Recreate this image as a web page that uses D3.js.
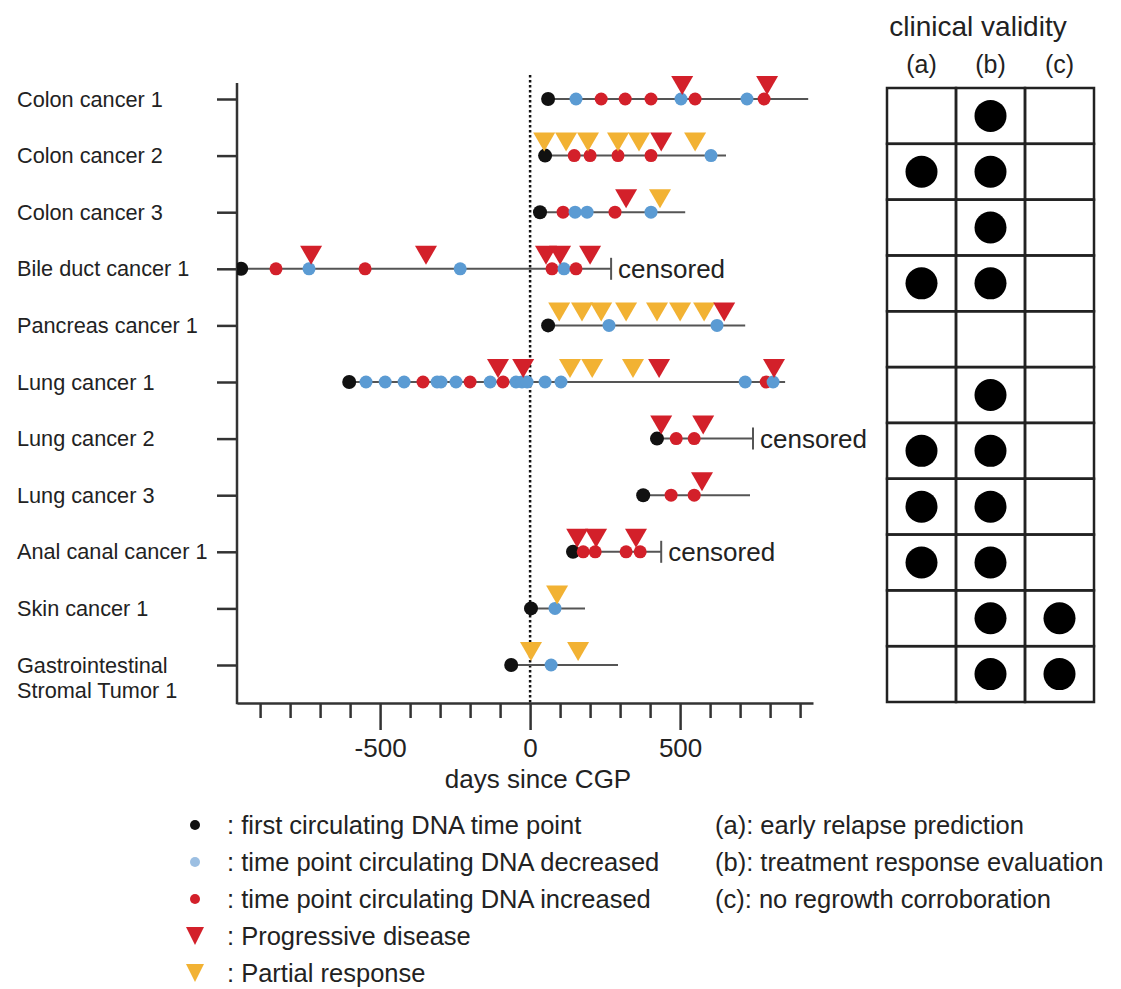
<!DOCTYPE html>
<html>
<head>
<meta charset="utf-8">
<script src="https://cdn.jsdelivr.net/npm/d3@7"></script>
<style>
  html, body { margin: 0; padding: 0; background: #fff; }
  text { font-family: "Liberation Sans", Arial, sans-serif; fill: #222; }
</style>
</head>
<body>
<svg id="chart" width="1121" height="989"></svg>
<script>
// ---------- data ----------
const rows = ["Colon cancer 1", "Colon cancer 2", "Colon cancer 3", "Bile duct cancer 1",
  "Pancreas cancer 1", "Lung cancer 1", "Lung cancer 2", "Lung cancer 3",
  "Anal canal cancer 1", "Skin cancer 1", "Gastrointestinal\nStromal Tumor 1"];
const firstPoint = [60, 50, 33, -963, 60, -603, 423, 377, 143, 3, -63];
const lineEnd = [927, 653, 517, 270, 717, 850, 743, 733, 437, 183, 293];
const censored = [false, false, false, true, false, false, true, false, true, false, false];
const decreased = [[153, 503, 723], [603], [150, 190, 403], [-737, -233, 113], [263, 623],
  [-547, -483, -420, -310, -297, -247, -133, -47, -27, -10, 50, 103, 717, 810], [], [], [], [83], [70]];
const increased = [[237, 317, 403, 550, 780], [147, 200, 293, 403], [110, 283], [-847, -550, 73, 153], [],
  [-357, -200, -90, 787], [487, 547], [470, 547], [177, 217, 320, 367], [], []];
const progressive = [[507, 790], [437], [320], [-730, -347, 53, 100, 200], [647],
  [-107, -23, 430, 813], [437, 577], [573], [157, 220, 353], [], []];
const partial = [[], [47, 120, 193, 293, 363, 550], [433], [], [97, 173, 237, 320, 423, 500, 580],
  [133, 207, 343], [], [], [], [90], [3, 160]];
const majorTicks = [-500, 0, 500];
const minorTicks = [-900, -800, -700, -600, -400, -300, -200, -100, 100, 200, 300, 400, 600, 700, 800, 900];
const validityCols = ["(a)", "(b)", "(c)"];
const validityA = [0, 1, 0, 1, 0, 0, 1, 1, 1, 0, 0];
const validityB = [1, 1, 1, 1, 0, 1, 1, 1, 1, 1, 1];
const validityC = [0, 0, 0, 0, 0, 0, 0, 0, 0, 1, 1];
const legendMarks = [": first circulating DNA time point", ": time point circulating DNA decreased",
  ": time point circulating DNA increased", ": Progressive disease", ": Partial response"];
const legendDefs = ["(a): early relapse prediction", "(b): treatment response evaluation",
  "(c): no regrowth corroboration"];

// ---------- styles ----------
const C = { black: "#111", blue: "#5b9bd3", red: "#d3202a", orange: "#f2b233", line: "#555",
  legBlue: "#9cbfe2" };

const svg = d3.select("#chart");
svg.append("rect").attr("width", 1121).attr("height", 989).attr("fill", "#fff");

const x = d3.scaleLinear().domain([-977, 943]).range([237, 813]);
const y = d3.scalePoint().domain(rows).range([99, 665]);
const axisTop = 83, axisBottom = 703;

// clip
svg.append("defs").append("clipPath").attr("id", "plotclip")
  .append("rect").attr("x", 237).attr("y", 0).attr("width", 884).attr("height", axisBottom);

// dotted zero line
svg.append("line").attr("x1", x(0)).attr("x2", x(0)).attr("y1", 75).attr("y2", axisBottom)
  .attr("stroke", "#111").attr("stroke-width", 2.5).attr("stroke-dasharray", "2.5,2.5");

// y axis
const yAxis = d3.axisLeft(y).tickSize(20).tickFormat("");
const gy = svg.append("g").attr("transform", "translate(237,0)").call(yAxis);
gy.select(".domain").remove();
gy.selectAll(".tick line").attr("stroke", "#333").attr("stroke-width", 2.5);
svg.append("line").attr("x1", 237).attr("x2", 237).attr("y1", axisTop).attr("y2", axisBottom + 1.2)
  .attr("stroke", "#333").attr("stroke-width", 2.5);

// row labels
rows.forEach(r => {
  const lines = r.split("\n");
  const t = svg.append("text").attr("x", 17).attr("y", y(r)).attr("font-size", 21.7);
  lines.forEach((l, i) => t.append("tspan").attr("x", 17).attr("dy", i === 0 ? "0.35em" : "1.15em").text(l));
});

// x axis
const gxMinor = svg.append("g").attr("transform", `translate(0,${axisBottom})`)
  .call(d3.axisBottom(x).tickValues(minorTicks).tickSize(15).tickSizeOuter(0).tickFormat(""));
gxMinor.select(".domain").remove();
gxMinor.selectAll(".tick line").attr("stroke", "#333").attr("stroke-width", 2.5);
const gx = svg.append("g").attr("transform", `translate(0,${axisBottom})`)
  .call(d3.axisBottom(x).tickValues(majorTicks).tickSize(27).tickSizeOuter(0).tickPadding(9)
    .tickFormat(d => String(d)));
gx.select(".domain").attr("stroke", "#333").attr("stroke-width", 2.5);
gx.selectAll(".tick line").attr("stroke", "#333").attr("stroke-width", 2.5);
gx.selectAll(".tick text").attr("font-size", 26).attr("font-family", "Liberation Sans, Arial, sans-serif")
  .attr("fill", "#222").attr("dy", "0.71em");
svg.append("text").attr("x", 538).attr("y", 788).attr("text-anchor", "middle")
  .attr("font-size", 26).text("days since CGP");

// triangle helper
const triW = 22, triH = 19;
function tri(g, cx, baseY, color, w, h) {
  g.append("path")
    .attr("d", `M${cx - w / 2},${baseY - h} L${cx + w / 2},${baseY - h} L${cx},${baseY} Z`)
    .attr("fill", color);
}

// series
const plot = svg.append("g").attr("clip-path", "url(#plotclip)");
rows.forEach((r, i) => {
  const yy = y(r);
  plot.append("line").attr("x1", x(firstPoint[i])).attr("x2", x(lineEnd[i]))
    .attr("y1", yy).attr("y2", yy).attr("stroke", C.line).attr("stroke-width", 2);
  if (censored[i]) {
    plot.append("line").attr("x1", x(lineEnd[i])).attr("x2", x(lineEnd[i]))
      .attr("y1", yy - 11).attr("y2", yy + 11).attr("stroke", C.line).attr("stroke-width", 2);
    svg.append("text").attr("x", x(lineEnd[i]) + 7).attr("y", yy).attr("dy", "0.35em")
      .attr("font-size", 26).text("censored");
  }
  const pts = decreased[i].map(d => ({ d, c: C.blue })).concat(increased[i].map(d => ({ d, c: C.red })))
    .sort((a, b) => a.d - b.d);
  plot.append("circle").attr("cx", x(firstPoint[i])).attr("cy", yy).attr("r", 7).attr("fill", C.black);
  pts.forEach(p => plot.append("circle").attr("cx", x(p.d)).attr("cy", yy).attr("r", 6.5).attr("fill", p.c));
  partial[i].forEach(d => tri(plot, x(d), yy - 4, C.orange, triW, triH));
  progressive[i].forEach(d => tri(plot, x(d), yy - 4, C.red, triW, triH));
});

// ---------- clinical validity table ----------
const tx = d3.scaleBand().domain(validityCols).range([887, 1094]);
const ty = d3.scaleBand().domain(rows).range([88, 702]);
svg.append("text").attr("x", 978).attr("y", 36).attr("text-anchor", "middle").attr("font-size", 28)
  .text("clinical validity");
validityCols.forEach(c => svg.append("text").attr("x", tx(c) + tx.bandwidth() / 2).attr("y", 73)
  .attr("text-anchor", "middle").attr("font-size", 25).text(c));
const tbl = svg.append("g");
rows.forEach(r => {
  validityCols.forEach(c => {
    tbl.append("rect").attr("x", tx(c)).attr("y", ty(r)).attr("width", tx.bandwidth())
      .attr("height", ty.bandwidth()).attr("fill", "none").attr("stroke", "#222").attr("stroke-width", 2.5);
  });
});
const vals = [validityA, validityB, validityC];
rows.forEach((r, i) => {
  vals.forEach((v, j) => {
    if (v[i]) tbl.append("circle").attr("cx", tx(validityCols[j]) + tx.bandwidth() / 2)
      .attr("cy", ty(r) + ty.bandwidth() / 2).attr("r", 16).attr("fill", "#000");
  });
});

// ---------- legends ----------
const legY = [825, 862, 899, 936, 973];
legendMarks.forEach((t, i) => {
  const cy = legY[i];
  if (i === 0) svg.append("circle").attr("cx", 195).attr("cy", cy).attr("r", 5).attr("fill", C.black);
  if (i === 1) svg.append("circle").attr("cx", 195).attr("cy", cy).attr("r", 5).attr("fill", C.legBlue);
  if (i === 2) svg.append("circle").attr("cx", 195).attr("cy", cy).attr("r", 5).attr("fill", C.red);
  if (i === 3) tri(svg, 195, cy + 9, C.red, 18, 18);
  if (i === 4) tri(svg, 195, cy + 9, C.orange, 18, 18);
  svg.append("text").attr("x", 227).attr("y", cy).attr("dy", "0.35em").attr("font-size", 25.5).text(t);
});
legendDefs.forEach((t, i) => {
  svg.append("text").attr("x", 715).attr("y", legY[i]).attr("dy", "0.35em").attr("font-size", 25.5).text(t);
});
</script>
</body>
</html>
